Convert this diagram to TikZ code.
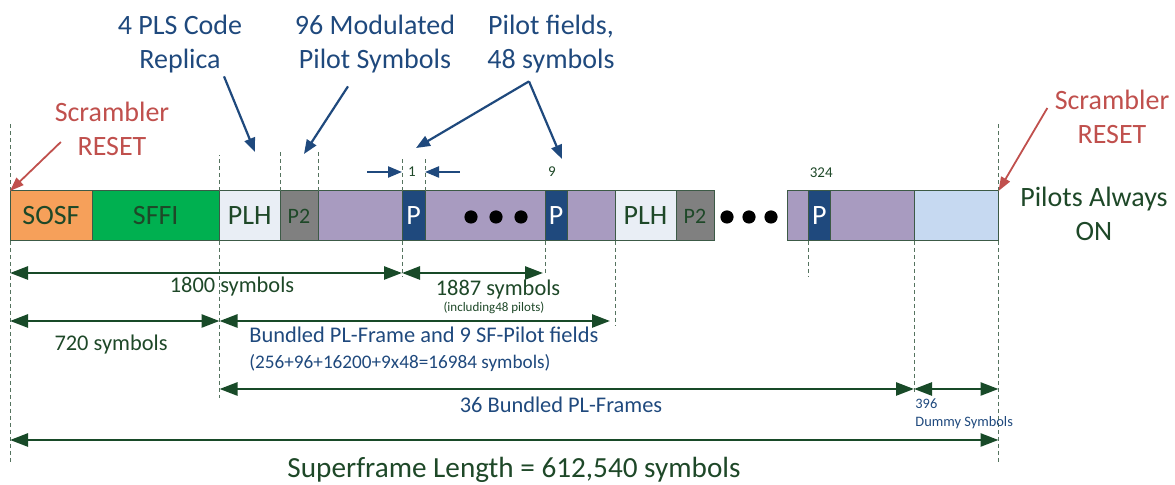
\documentclass[tikz,border=0pt]{standalone}
\usepackage{fontspec}
\setmainfont{Carlito}
\usetikzlibrary{positioning,arrows.meta,calc}
\tikzset{>={Triangle[length=9pt,width=6.5pt]}}
\definecolor{txtgreen}{RGB}{30,72,40}
\definecolor{dimgreen}{RGB}{24,74,40}
\definecolor{callblue}{RGB}{31,73,125}
\definecolor{scrred}{RGB}{192,80,77}
\definecolor{sosfc}{RGB}{246,160,90}
\definecolor{sffic}{RGB}{0,176,80}
\definecolor{plhc}{RGB}{233,238,245}
\definecolor{ptwoc}{RGB}{128,128,128}
\definecolor{datac}{RGB}{168,155,192}
\definecolor{pilotc}{RGB}{31,73,125}
\definecolor{dummyc}{RGB}{198,217,241}
\definecolor{segline}{RGB}{60,90,70}
\definecolor{guideline}{RGB}{85,115,95}

\begin{document}
\begin{tikzpicture}[x=0.5pt,y=-0.5pt,
  seg/.style={draw=segline,line width=0.5pt,minimum height=25pt,inner sep=0pt,outer sep=0pt,
    font=\fontsize{14}{17}\selectfont,text=txtgreen},
  guide/.style={draw=guideline,line width=0.4pt,dash pattern=on 2pt off 1.5pt},
  dim/.style={<->,draw=dimgreen,line width=1.3pt},
  callout/.style={->,draw=callblue,line width=1.1pt,>={Triangle[length=7pt,width=5.5pt]}},
  reset/.style={->,draw=scrred,line width=0.9pt,>={Triangle[length=7pt,width=5pt]}},
  big/.style={font=\fontsize{14}{17}\selectfont,align=center,inner sep=0pt},
  mid/.style={font=\fontsize{11.2}{13}\selectfont,inner sep=0pt},
  tiny/.style={font=\fontsize{7.5}{9}\selectfont,inner sep=0pt}]
\useasboundingbox (0,0) rectangle (1175,485);

% superframe bar
\node[seg,fill=sosfc,minimum width=41pt,anchor=west] (sosf) at (10,216) {SOSF};
\node[seg,fill=sffic,minimum width=63.75pt,right=0pt of sosf] (sffi) {SFFI};
\node[seg,fill=plhc,minimum width=30.25pt,right=0pt of sffi] (plh) {PLH};
\node[seg,fill=ptwoc,minimum width=19pt,right=0pt of plh,font=\fontsize{11}{13}\selectfont] (ptwo) {P2};
\node[seg,fill=datac,minimum width=42pt,right=0pt of ptwo] (da) {};
\node[seg,fill=pilotc,minimum width=11.5pt,right=0pt of da,text=white] (pa) {P};
\node[seg,fill=datac,minimum width=60pt,right=0pt of pa] (db) {};
\node[seg,fill=pilotc,minimum width=11pt,right=0pt of db,text=white] (pb) {P};
\node[seg,fill=datac,minimum width=24pt,right=0pt of pb] (dc) {};
\node[seg,fill=plhc,minimum width=30.5pt,right=0pt of dc] (plhb) {PLH};
\node[seg,fill=ptwoc,minimum width=19pt,right=0pt of plhb,font=\fontsize{11}{13}\selectfont] (ptwob) {P2};
\node[seg,fill=datac,minimum width=10.25pt,right=36.75pt of ptwob] (dd) {};
\node[seg,fill=pilotc,minimum width=11.25pt,right=0pt of dd,text=white] (pc) {P};
\node[seg,fill=datac,minimum width=41.75pt,right=0pt of pc] (de) {};
\node[seg,fill=dummyc,minimum width=42.25pt,right=0pt of de] (dummy) {};
\foreach \x in {471,496,521} \fill (\x,217) circle[radius=3.3pt];
\foreach \x in {727,749,771} \fill (\x,217) circle[radius=3.3pt];

% guides
\draw[guide] (sosf.north west) -- ++(0,-68);
\draw[guide] (sosf.south west) -- ++(0,221);
\draw[guide] (plh.north west) -- ++(0,-36);
\draw[guide] (plh.south west) -- ++(0,157);
\draw[guide] (ptwo.north west) -- ++(0,-39);
\draw[guide] (ptwo.north east) -- ++(0,-39);
\draw[guide] (pa.north west) -- ++(0,-34);
\draw[guide] (pa.north east) -- ++(0,-34);
\draw[guide] (pa.south west) -- ++(0,36);
\draw[guide] (pb.south west) -- ++(0,34);
\draw[guide] (plhb.south west) -- ++(0,85);
\draw[guide] (pc.south west) -- ++(0,36);
\draw[guide] (dummy.south west) -- ++(0,154);
\draw[guide] (dummy.north east) -- ++(0,-68);
\draw[guide] (dummy.south east) -- ++(0,221);

% labels above
\node[big,text=scrred] (scrl) at (112,129) {Scrambler\\RESET};
\node[big,text=scrred] (scrr) at (1112,117) {Scrambler\\RESET};
\node[big,text=callblue] (pls) at (180,44) {4 PLS Code\\Replica};
\node[big,text=callblue] (mod) at (375,44) {96 Modulated\\Pilot Symbols};
\node[big,text=callblue] (pil) at (551,44) {Pilot fields,\\48 symbols};
\node[big,text=txtgreen] (always) at (1094,214) {Pilots Always\\ON};
\draw[reset] ([shift={(3.25pt,-6.5pt)}]scrl.west) -- (sosf.north west);
\draw[reset] ([shift={(-3.5pt,4.5pt)}]scrr.west) -- (dummy.north east);
\draw[callout] ([shift={(22pt,-1.5pt)}]pls.south) -- ([shift={(2.6pt,19.5pt)}]plh.north);
\draw[callout] ([shift={(-13.5pt,-6.5pt)}]mod.south) -- ([shift={(2.5pt,18.5pt)}]ptwo.north);
\draw[callout] ([shift={(-11pt,-4pt)}]pil.south) coordinate (fork) -- ([shift={(1.25pt,21.5pt)}]pa.north);
\draw[callout] (fork) -- ([shift={(3pt,16pt)}]pb.north);

% pilot numbers
\node[tiny,text=txtgreen] (n1) at ([shift={(-0.75pt,9.5pt)}]pa.north) {1};
\node[tiny,text=txtgreen] (n9) at ([shift={(-2pt,9.5pt)}]pb.north) {9};
\node[tiny,text=txtgreen] (n324) at ([shift={(1pt,9pt)}]pc.north) {324};
\draw[callout,<-] (pa.north west |- n1) -- ++(-35,0);
\draw[callout,<-] (pa.north east |- n1) -- ++(35,0);

% dimensions
\coordinate (r1) at (0,273);
\coordinate (r2) at (0,321);
\coordinate (r3) at (0,389);
\coordinate (r4) at (0,440);
\draw[dim] (sosf.west |- r1) -- (pa.west |- r1);
\draw[dim,shorten >=1pt] (pa.west |- r1) -- (pb.west |- r1);
\draw[dim] (sosf.west |- r2) -- (plh.west |- r2);
\draw[dim,shorten >=2.5pt] (plh.west |- r2) -- (plhb.west |- r2);
\draw[dim] (plh.west |- r3) -- (dummy.west |- r3);
\draw[dim] (dummy.west |- r3) -- (dummy.east |- r3);
\draw[dim] (sosf.west |- r4) -- (dummy.east |- r4);
\node[mid,text=txtgreen] at (232,287) {1800 symbols};
\node[mid,text=txtgreen] at (498,290) {1887 symbols};
\node[font=\fontsize{6.5}{8}\selectfont,inner sep=0pt,text=txtgreen] at (494,308) {(including48 pilots)};
\node[mid,text=txtgreen] at (111,345) {720 symbols};
\node[mid,text=callblue,anchor=west] at (249,335) {Bundled PL-Frame and 9 SF-Pilot fields};
\node[font=\fontsize{9.6}{12}\selectfont,inner sep=0pt,text=callblue,anchor=west] at (249,363) {(256+96+16200+9x48=16984 symbols)};
\node[mid,text=callblue] at (561,405) {36 Bundled PL-Frames};
\node[tiny,text=callblue,align=left,anchor=north west,font=\fontsize{7.2}{9}\selectfont] at (915,398) {396\\Dummy Symbols};
\node[big,text=txtgreen,font=\fontsize{14.6}{17}\selectfont] at (514,470) {Superframe Length = 612,540 symbols};
\end{tikzpicture}
\end{document}
